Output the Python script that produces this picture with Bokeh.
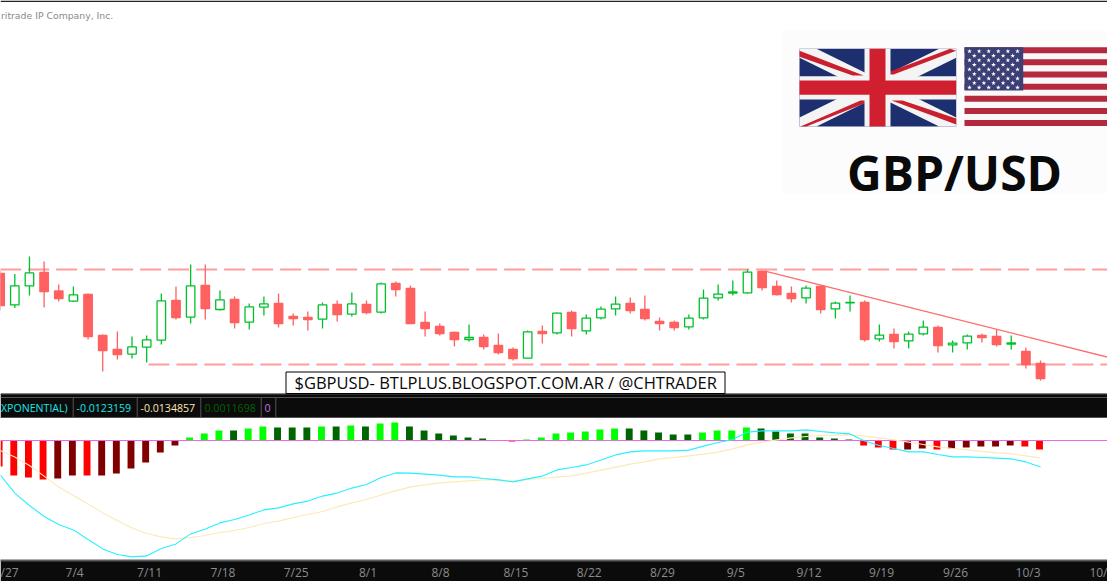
from bokeh.plotting import figure
from bokeh.models import ColumnDataSource, Range1d, FixedTicker, LinearAxis
from bokeh.core.properties import value
from bokeh.embed import file_html
from bokeh.resources import INLINE

# ---------- data ----------
opens = [1.3335,1.3178,1.3273,1.3340,1.3248,1.3197,1.3230,1.3025,1.2955,1.2932,1.2967,1.3002,1.3200,1.3117,1.3275,1.3155,1.3205,1.3092,
         1.3167,1.3185,1.3120,1.3115,1.3107,1.3180,1.3132,1.3180,1.3142,1.3285,1.3260,1.3090,1.3070,1.3040,1.3005,1.3015,1.2975,1.2955,
         1.2912,1.3045,1.3038,1.3140,1.3048,1.3113,1.3158,1.3185,1.3155,1.3095,1.3090,1.3068,1.3113,1.3213,1.3237,1.3238,1.3345,1.3270,
         1.3235,1.3213,1.3270,1.3158,1.3188,1.3190,1.3008,1.3030,1.2998,1.3033,1.3065,1.2978,1.2988,1.3025,1.3020,1.2982,1.2945,1.2885]
highs = [1.3350,1.3333,1.3420,1.3395,1.3280,1.3270,1.3235,1.3030,1.3045,1.3020,1.3025,1.3235,1.3270,1.3380,1.3380,1.3250,1.3220,1.3185,
         1.3220,1.3235,1.3135,1.3145,1.3190,1.3200,1.3240,1.3200,1.3290,1.3295,1.3275,1.3145,1.3085,1.3045,1.3080,1.3030,1.3035,1.2965,
         1.3050,1.3075,1.3140,1.3150,1.3130,1.3170,1.3220,1.3215,1.3225,1.3115,1.3100,1.3130,1.3255,1.3280,1.3300,1.3355,1.3350,1.3300,
         1.3270,1.3275,1.3275,1.3195,1.3225,1.3200,1.3080,1.3060,1.3045,1.3100,1.3075,1.3000,1.3030,1.3035,1.3055,1.3025,1.2965,1.2900]
lows = [1.3150,1.3162,1.3225,1.3165,1.3195,1.3192,1.3005,1.2845,1.2905,1.2910,1.2890,1.2980,1.3105,1.3085,1.3105,1.3150,1.3060,1.3055,
        1.3125,1.3065,1.3075,1.3050,1.3060,1.3095,1.3120,1.3130,1.3135,1.3220,1.3085,1.3020,1.3025,1.2970,1.2995,1.2955,1.2930,1.2900,
        1.2910,1.2985,1.3030,1.3020,1.3030,1.3105,1.3125,1.3135,1.3100,1.3050,1.3050,1.3055,1.3105,1.3200,1.3225,1.3235,1.3250,1.3225,
        1.3190,1.3185,1.3135,1.3110,1.3145,1.2995,1.2995,1.2960,1.2960,1.3025,1.2940,1.2940,1.2955,1.2990,1.2970,1.2955,1.2860,1.2800]
closes = [1.3175,1.3273,1.3338,1.3245,1.3210,1.3228,1.3020,1.2950,1.2930,1.2968,1.3003,1.3198,1.3115,1.3273,1.3160,1.3203,1.3090,1.3168,
          1.3183,1.3085,1.3110,1.3105,1.3178,1.3130,1.3183,1.3140,1.3283,1.3255,1.3085,1.3060,1.3035,1.3005,1.3015,1.2970,1.2940,1.2910,
          1.3043,1.3035,1.3137,1.3060,1.3112,1.3157,1.3182,1.3150,1.3110,1.3085,1.3065,1.3112,1.3212,1.3232,1.3243,1.3342,1.3265,1.3230,
          1.3210,1.3262,1.3155,1.3187,1.3190,1.3005,1.3027,1.2995,1.3032,1.3067,1.2975,1.2987,1.3022,1.3015,1.2980,1.2988,1.2880,1.2810]

macd = [-0.0172,-0.0263,-0.0325,-0.0380,-0.0420,-0.0447,-0.0495,-0.0542,-0.0570,-0.0582,-0.0577,-0.0540,-0.0517,-0.0467,-0.0442,-0.0412,
        -0.0395,-0.0372,-0.0347,-0.0337,-0.0317,-0.0303,-0.0278,-0.0263,-0.0238,-0.0220,-0.0185,-0.0162,-0.0163,-0.0168,-0.0173,-0.0182,
        -0.0182,-0.0190,-0.0197,-0.0207,-0.0192,-0.0178,-0.0147,-0.0135,-0.0122,-0.0098,-0.0072,-0.0057,-0.0052,-0.0052,-0.0052,-0.0048,
        -0.0028,-0.0010,0.0005,0.0042,0.0048,0.0048,0.0048,0.0053,0.0045,0.0038,0.0033,-0.0002,-0.0025,-0.0040,-0.0057,-0.0057,-0.0070,
        -0.0082,-0.0082,-0.0085,-0.0088,-0.0092,-0.0107,-0.0132]
signal = [-0.0050,-0.0083,-0.0125,-0.0178,-0.0233,-0.0275,-0.0317,-0.0362,-0.0400,-0.0437,-0.0465,-0.0482,-0.0492,-0.0485,-0.0475,-0.0460,
          -0.0450,-0.0435,-0.0415,-0.0403,-0.0385,-0.0370,-0.0355,-0.0332,-0.0312,-0.0295,-0.0272,-0.0252,-0.0232,-0.0222,-0.0212,-0.0207,
          -0.0202,-0.0197,-0.0197,-0.0202,-0.0195,-0.0190,-0.0182,-0.0177,-0.0163,-0.0148,-0.0133,-0.0118,-0.0107,-0.0092,-0.0085,-0.0077,
          -0.0068,-0.0058,-0.0042,-0.0022,-0.0008,0.0003,0.0013,0.0020,0.0025,0.0027,0.0028,0.0022,0.0013,0.0003,-0.0008,-0.0020,-0.0032,
          -0.0040,-0.0047,-0.0055,-0.0062,-0.0067,-0.0077,-0.0087]
hist = [-0.0130,-0.0175,-0.0185,-0.0195,-0.0190,-0.0175,-0.0175,-0.0175,-0.0165,-0.0140,-0.0110,-0.0060,-0.0025,
        0.0015,0.0035,0.0050,0.0050,0.0060,0.0070,0.0065,0.0065,0.0065,0.0070,0.0070,0.0075,0.0070,
        0.0085,0.0090,0.0070,0.0050,0.0035,0.0025,0.0015,0.0010,0.0000,-0.0005,0.0005,0.0015,0.0035,0.0040,0.0045,0.0055,0.0060,0.0060,
        0.0050,0.0040,0.0030,0.0030,0.0040,0.0050,0.0050,
        0.0065,0.0060,0.0045,0.0035,0.0035,0.0015,0.0010,0.0005,-0.0025,-0.0035,-0.0045,-0.0045,-0.0040,-0.0045,-0.0040,-0.0035,-0.0030,
        -0.0030,-0.0025,-0.0030,-0.0045]
hist_bright = [1,1,1,1,0,0,1,0,0,0,0,0,0,
               1,1,1,0,1,1,0,0,0,1,0,1,0,
               1,1,0,0,0,0,0,0,0,1,1,1,1,1,1,1,1,0,0,0,0,0,1,1,1,
               1,0,0,0,0,0,0,0,1,1,1,0,0,1,0,0,0,0,0,1,1]

tick_pos = [0.43, 5.08, 10.2, 15.2, 20.2, 25.1, 30.05, 35.2, 40.2, 45.2, 50.2, 55.2, 60.15, 65.2, 70.15, 75.2]
tick_labels = ["/27", "7/4", "7/11", "7/18", "7/25", "8/1", "8/8", "8/15", "8/22", "8/29", "9/5", "9/12", "9/19", "9/26", "10/3", "10/"]

resistance = 1.3355
support = 1.2880
support_start = 10.12
trend_x = [52.2, 75.57]
trend_y = [1.3347, 1.2917]

legend_values = ["-0.0123159", "-0.0134857", "0.0011698", "0"]
legend_colors = ["#19e6e6", "#fde9b8", "#006400", "#c86ee6"]
watermark = "$GBPUSD- BTLPLUS.BLOGSPOT.COM.AR / @CHTRADER"

# ---------- figure ----------
W, H = 1107, 581
n = len(opens)
idx = list(range(n))
p = figure(width=W, height=H, frame_height=560, frame_width=W, output_backend="svg", toolbar_location=None, tools="",
           x_range=Range1d(0.024, 75.57), y_range=Range1d(1.19, 1.47),
           min_border=0, min_border_bottom=21, x_axis_location="below",
           background_fill_color="white", border_fill_color="#0b0b0b", outline_line_color=None)
p.yaxis.visible = False
p.grid.visible = False
p.extra_y_ranges = {"macd": Range1d(-0.06, 0.22), "pxy": Range1d(560, 0)}
p.extra_x_ranges = {"pxx": Range1d(0, 1107)}

ax = p.xaxis[0]
ax.ticker = FixedTicker(ticks=tick_pos)
ax.major_label_overrides = dict(zip(tick_pos, tick_labels))
ax.major_tick_line_color = None
ax.minor_tick_line_color = None
ax.major_tick_out = 0
ax.major_tick_in = 0
ax.axis_line_color = "#5a5a5a"
ax.axis_line_width = 2
ax.major_label_text_color = "#8c8c8c"
ax.major_label_text_font = "Open Sans"
ax.major_label_text_font_size = "12px"
ax.major_label_standoff = 3
px = dict(x_range_name="pxx", y_range_name="pxy")

def box(l, r, t, b, color, line=None):
    p.quad(left=[l], right=[r], top=[t], bottom=[b], fill_color=color, line_color=line, **px)

def label(x, y, s, color, size, font="Open Sans", style="normal", align="left"):
    p.text(x=[x], y=[y], text=[s], text_color=color, text_font=value(font), text_font_size=size,
           text_font_style=style, text_align=align, text_baseline="middle", **px)

# top edge + attribution
box(0, 1107, 0, 1.5, "#222222")
label(0.5, 15, "ritrade IP Company, Inc.", "#8a8a8a", "9.3px", font="DejaVu Sans")

# flags and title
box(782, 1107, 30, 193, "#fcfcfc")
ux0, ux1, uy0, uy1 = 799, 955.7, 48.3, 126
box(ux0, ux1, uy0, uy1, "#1d2f6f")
cx, cy = (ux0 + ux1) / 2 - 0.3, (uy0 + uy1) / 2 - 0.2
dw, dh = 17, 9
p.patches(xs=[[ux0, ux0 + dw, ux1, ux1, ux1 - dw, ux0], [ux1, ux1 - dw, ux0, ux0, ux0 + dw, ux1]],
          ys=[[uy0, uy0, uy1 - dh, uy1, uy1, uy0 + dh], [uy0, uy0, uy1 - dh, uy1, uy1, uy0 + dh]],
          fill_color="#f4f4f4", line_color=None, **px)
p.patches(xs=[[ux0, ux0, cx - 25, cx - 14], [ux1 - 6, ux1, cx + 16, cx + 5], [ux0 + 1, ux0 + 7, cx - 6, cx - 17], [ux1, ux1, cx + 25, cx + 14]],
          ys=[[uy0 + 2, uy0 + 8, cy - 12, cy - 12], [uy0, uy0 + 2, cy - 13, cy - 13], [uy1, uy1, cy + 13, cy + 13], [uy1 - 2, uy1 - 8, cy + 13, cy + 13]],
          fill_color="#c8202f", line_color=None, **px)
box(864, 890, uy0, uy1, "#f4f4f4")
box(ux0, ux1, 75.7, 99, "#f4f4f4")
box(869, 885, uy0, uy1, "#d01f2e")
box(ux0, ux1, 80, 94.3, "#d01f2e")

sx0, sx1, sy0, sy1 = 964, 1107, 46.7, 126
box(sx0, sx1, sy0, sy1, "#f8f8f8")
for k in range(7):
    t = sy0 + k * 12.15
    box(sx0, sx1, t, t + 6, "#b5293f")
box(sx0, 1022.7, sy0, 90, "#3b3f75")
star_x, star_y = [], []
for r in range(9):
    cols = 6 if r % 2 == 0 else 5
    for c in range(cols):
        star_x.append(sx0 + 5 + (c * 2 + (r % 2)) * 4.8)
        star_y.append(sy0 + 4 + r * 4.55)
p.scatter(star_x, star_y, marker="star", size=5, fill_color="white", line_color=None, **px)
label(954, 172, "GBP/USD", "#0a0a0a", "48px", font="Open Sans", style="bold", align="center")

# reference lines
p.line([0.0, 75.57], [resistance, resistance], line_color="#ff9c9c", line_width=2, line_dash="21 7")
p.line([support_start, 75.57], [support, support], line_color="#ff9c9c", line_width=2, line_dash="21 7")
p.line(trend_x, trend_y, line_color="#ff6a6a", line_width=1.3)

# candles
up = [c > o for o, c in zip(opens, closes)]
col = ["#00c02a" if u else "#ff6060" for u in up]
src = ColumnDataSource(dict(x=idx, o=opens, h=highs, l=lows, c=closes, col=col,
                            top=[max(a, b) for a, b in zip(opens, closes)],
                            bot=[min(a, b) for a, b in zip(opens, closes)],
                            fill=["white" if u else "#ff6060" for u in up]))
p.segment("x", "h", "x", "l", source=src, line_color="col", line_width=1.3)
p.vbar(x="x", width=0.58, top="top", bottom="bot", source=src, fill_color="fill", line_color="col", line_width=1.3)

# indicator: histogram, zero line, averages
def hcolor(v, b):
    if v >= 0:
        return "#00ff00" if b else "#006400"
    return "#ff0000" if b else "#800000"
hsrc = ColumnDataSource(dict(x=[i - 0.07 for i in idx], top=[max(v, 0) for v in hist], bot=[min(v, 0) for v in hist],
                             col=[hcolor(v, b) for v, b in zip(hist, hist_bright)]))
p.vbar(x="x", width=0.47, top="top", bottom="bot", source=hsrc, fill_color="col", line_color=None, y_range_name="macd")
p.line([0.0, 75.57], [0, 0], line_color="#e56be5", line_width=1.2, y_range_name="macd")
p.line(idx, signal, line_color="#fde9b8", line_width=1.1, y_range_name="macd")
p.line(idx, macd, line_color="#28f0ff", line_width=1.1, y_range_name="macd")

# legend strip
box(0, 1107, 393, 417.5, "#0b0b0b")
box(0, 1107, 393.4, 394.4, "#2c2c2c")
box(0, 1107, 396.5, 397.5, "#555555")
box(0, 1107, 416.5, 417.5, "#555555")
for xs in [72.7, 136.7, 200.3, 260.7, 275.3]:
    box(xs - 0.5, xs + 0.5, 397, 417, "#555555")
label(0.5, 407, "XPONENTIAL)", "#19e6e6", "10.6px")
for lx, s, c in zip([76, 140, 204, 264], legend_values, legend_colors):
    label(lx, 407, s, c, "10.6px")

# watermark box
box(285.5, 724.5, 371.5, 393, "white", line="black")
label(294, 382, watermark, "#0a0a0a", "16.5px")

open("out.html", "w").write(file_html(p, INLINE))
